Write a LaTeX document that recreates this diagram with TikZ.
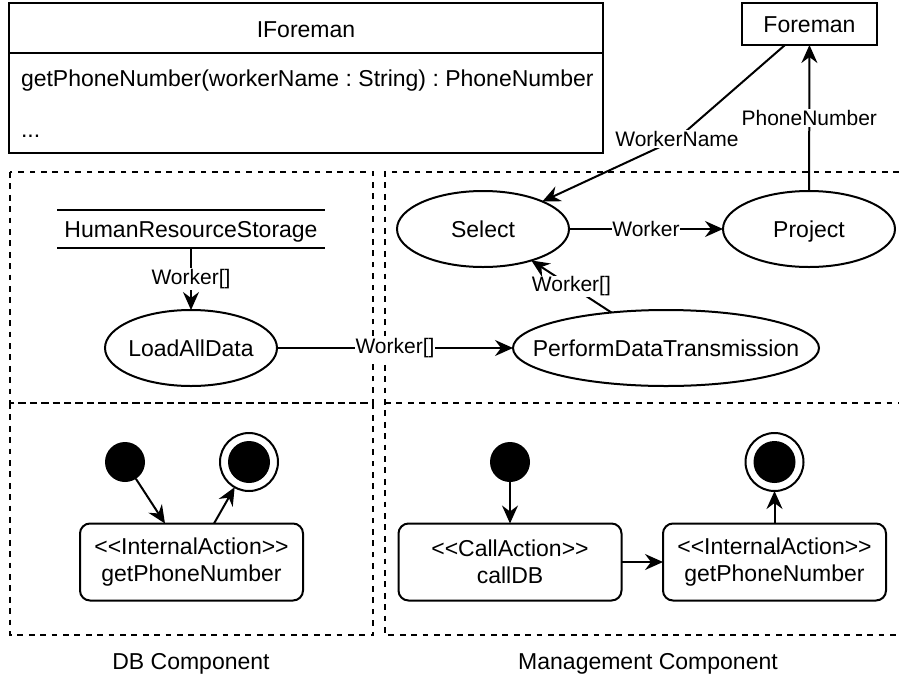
\documentclass[tikz,border=0pt]{standalone}
\usepackage{fontspec}
\setmainfont{Liberation Sans}
\usetikzlibrary{arrows.meta,shapes.geometric}

\begin{document}
\frenchspacing
\begin{tikzpicture}[x=1pt,y=-1pt,
  every node/.style={font=\fontsize{23}{27}\selectfont, inner sep=0pt, outer sep=0pt},
  word/.style={text height=16.5pt, text depth=0pt},
  ln/.style={line width=2pt},
  arr/.style={ln, -{Stealth[length=18pt,width=16pt,inset=6pt]}},
  lbl/.style={fill=white, font=\fontsize{21}{24}\selectfont, inner sep=0.8pt},
  usecase/.style={ellipse, draw, line width=2pt, minimum width=172pt, minimum height=76pt},
  zone/.style={line width=2pt, dash pattern=on 5.7pt off 5.7pt},
  action/.style={draw, line width=2pt, rounded corners=10pt, minimum width=223pt, minimum height=77pt, align=center},
  initstate/.style={circle, fill=black, minimum size=40pt},
  finalstate/.style={circle, draw, line width=2pt, minimum size=58pt},
  finaldot/.style={circle, fill=black, minimum size=42pt}
]
\useasboundingbox (0,0) rectangle (899,675);

% component zones
\draw[zone] (10,172) rectangle (373,403);
\draw[zone] (10,403) rectangle (373,635);
\draw[zone] (899,172) -- (385,172) -- (385,635) -- (899,635);
\draw[zone] (385,403) -- (899,403);

% interface class
\node[draw, ln, minimum width=594pt, minimum height=150pt] (ifm) at (306,78) {};
\draw[ln] (9,53) -- (603,53);
\node[anchor=base] (ifmname) at (306,37) {IForeman};
\node[anchor=base west] (ifmop) at (21,86) {getPhoneNumber(workerName : String) : PhoneNumber};
\node[anchor=base west] (ifmmore) at (21,137) {...};

% foreman
\node[draw, ln, word, minimum width=135pt, minimum height=42pt] (fm) at (809.5,24) {Foreman};

% use cases of the management component
\node[usecase] (sel) at (483,229) {};
\node[word] at (sel) {Select};
\node[usecase] (prj) at (809,229) {};
\node[word] at (prj) {Project};
\node[usecase, minimum width=306pt] (pdt) at (666,348) {};
\node[word] at (pdt) {PerformDataTransmission};

% DB component
\node[word, minimum width=268pt, minimum height=38pt] (hrs) at (191,229) {HumanResourceStorage};
\draw[ln] (hrs.north west) -- (hrs.north east);
\draw[ln] (hrs.south west) -- (hrs.south east);
\node[usecase] (lad) at (191,348) {};
\node[word] at (lad) {LoadAllData};

% data flow
\coordinate (bend) at (677,139);
\draw[arr] ([xshift=-24.5pt]fm.south) -- (bend) -- (sel);
\node[lbl] (wnlbl) at (bend) {WorkerName};
\draw[arr] (prj) -- node[lbl]{PhoneNumber} (fm);
\draw[arr] (sel) -- node[lbl]{Worker} (prj);
\draw[arr] (pdt) -- node[lbl]{Worker[]} (sel);
\draw[arr] (lad) -- node[lbl]{Worker[]} (pdt);
\draw[arr] (hrs.south) -- node[lbl]{Worker[]} (lad);

% DB component behaviour
\node[initstate] (i1) at (125,462) {};
\node[finalstate] (f1) at (249,462) {};
\node[finaldot] at (f1) {};
\node[action] (a1) at (191.5,562) {<{}<InternalAction>{}>\\getPhoneNumber};
\draw[arr] (i1) -- ([xshift=-26.5pt]a1.north);
\draw[arr] ([xshift=22.5pt]a1.north) -- (f1);

% management component behaviour
\node[initstate] (i2) at (510,462) {};
\node[action] (a2) at (510,562) {<{}<CallAction>{}>\\callDB};
\node[action] (a3) at (774.5,562) {<{}<InternalAction>{}>\\getPhoneNumber};
\node[finalstate] (f2) at (774.5,462) {};
\node[finaldot] at (f2) {};
\draw[arr] (i2) -- (a2);
\draw[arr] (a2) -- (a3);
\draw[arr] (a3) -- (f2);

% component names
\node[word] (dbname) at (191,661) {DB Component};
\node[word] (mgname) at (648,661) {Management Component};
\end{tikzpicture}
\end{document}
